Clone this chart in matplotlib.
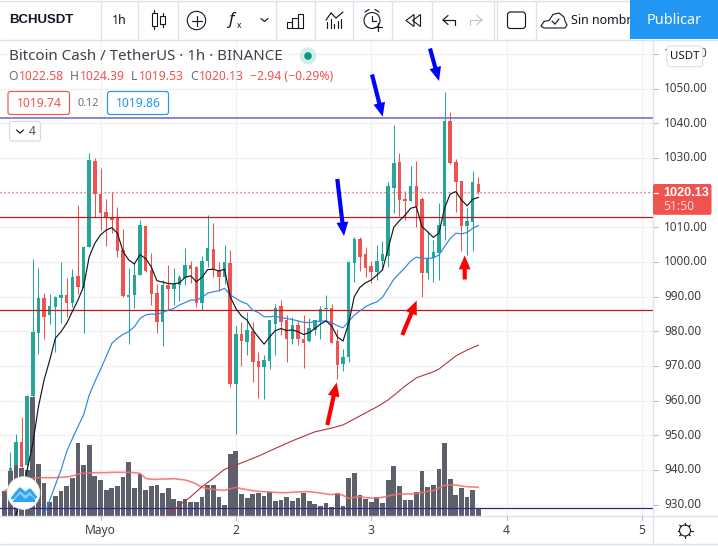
import matplotlib
matplotlib.use("Agg")
import matplotlib.pyplot as plt
from matplotlib.patches import Rectangle, FancyBboxPatch, FancyArrowPatch, Circle, Polygon

plt.rcParams['font.family'] = ['Noto Sans', 'DejaVu Sans']

# ---- data -------------------------------------------------------------
hours = list(range(-17, 68))
opens = [928, 932, 941.4, 948.1, 941.4, 961.4, 979.6, 989.6, 984.7, 987.1, 989.7, 990.5, 988.3, 996, 992.5, 1004.4, 1029.1, 1019.6, 1014.4, 1012.8, 1012.8, 1003.4, 990, 990.5, 996.2, 1010.4, 997.7, 991, 982.7, 993.4, 992.2, 993.4, 995.4, 999.1, 998.5, 988.2, 1000.3, 1003.7, 997.7, 995.7, 999.7, 964.8, 979.2, 976.9, 980, 971.4, 969.7, 971.4, 982.1, 987.3, 983.3, 977.8, 981.8, 977.8, 977.2, 980.4, 983, 986.4, 986.7, 977.2, 970.6, 972.6, 999.7, 1006.6, 1002.3, 998.8, 997.1, 1000.3, 1001.7, 1021.3, 1028.8, 1018.2, 1017.6, 1021.9, 1018.2, 996.8, 1001.1, 1002.6, 1010.4, 1040.7, 1028.8, 1023.4, 1010.4, 1011.5, 1022.58]
closes = [932, 940.6, 948.1, 941, 961.3, 979.9, 989.6, 984.2, 987.3, 990, 990.5, 988.3, 995.7, 992.8, 1004.3, 1029.4, 1019.5, 1014.2, 1012.8, 1012.1, 1003.2, 990.1, 990.5, 996.2, 1010.7, 997.4, 990.8, 982.7, 993.4, 992.2, 993.6, 995.7, 999.1, 998, 988.2, 1000.3, 1004, 997.7, 995.7, 1000, 964.8, 979.2, 977.2, 980.4, 971.1, 969.7, 971.7, 983.3, 986.7, 982.7, 977.8, 981.8, 977.8, 976.6, 980.9, 983.3, 986.4, 986.7, 976.6, 970.3, 972.6, 1000, 1006.6, 1001.4, 998.3, 997.1, 1000.3, 1002.3, 1021.9, 1028.6, 1017.9, 1017.6, 1021.9, 1015.9, 996.8, 1001.1, 1002.9, 1010.7, 1040.7, 1028.5, 1023.1, 1010.4, 1011.8, 1023.1, 1020.13]
highs = [933, 945.2, 950.4, 955.4, 961.6, 1000.9, 998.3, 991, 990.8, 990.2, 1000, 995.4, 997.9, 1016.4, 1004.6, 1031.3, 1029.9, 1027.1, 1018.2, 1020.2, 1015.9, 1009.5, 998.3, 999.6, 1012.1, 1010.4, 1002.6, 993.6, 994.8, 999.1, 998.3, 996.2, 1004, 1000.3, 998.8, 1001.7, 1013.6, 1011.2, 1000, 1004.9, 1003.4, 981.5, 982.7, 985.6, 982.7, 974, 973.2, 983.3, 987.9, 989, 984.7, 984.1, 983.3, 984.7, 983.8, 983.3, 987.3, 990.5, 987.9, 980.7, 974.9, 1000.3, 1007.2, 1007.2, 1004.3, 1000.3, 1004.9, 1006, 1023.1, 1039.5, 1031.4, 1020.5, 1027.7, 1029.1, 1018.7, 1008.9, 1006.3, 1017, 1049, 1043.3, 1029.7, 1023.4, 1015.6, 1026.2, 1024.39]
lows = [926, 930, 938, 940, 938, 960, 973.5, 977.9, 982.1, 974.1, 982.4, 984.1, 987, 990.8, 979.6, 1004.4, 1012.9, 1009.2, 1004.6, 1008.5, 1001.4, 989.8, 976.3, 986.7, 996.2, 997.1, 987.6, 979.5, 975.8, 986.1, 987.6, 988.7, 993.4, 994, 987, 986.1, 998.5, 995.7, 991.6, 993.6, 964, 950.4, 970, 973.2, 965.4, 960.8, 960.5, 969.1, 973.2, 978.9, 971.1, 976.3, 976, 969.4, 976.9, 978.9, 977.8, 983.3, 976.6, 966.2, 968.5, 971.1, 994.2, 997.4, 995.7, 993.9, 994.8, 997.7, 998.5, 1014.1, 1013.3, 1012.1, 1017.6, 1010.1, 989.9, 995.1, 994.2, 994.8, 1006.3, 1028.2, 1014.4, 1003.2, 1002, 1003.2, 1019.53]
volumes = [75, 135, 153, 144, 138, 358, 156, 99, 42, 60, 75, 90, 114, 219, 153, 213, 120, 108, 78, 84, 90, 117, 162, 84, 126, 78, 90, 93, 69, 84, 51, 45, 51, 42, 42, 57, 93, 93, 57, 33, 186, 195, 66, 54, 66, 69,
           60, 72, 45, 48, 57, 45, 54, 69, 45, 36, 30, 39, 27, 69, 30, 114, 129, 63, 51, 42, 57, 39, 108, 150, 90, 48, 48, 72, 135, 87, 93, 141, 219, 111, 63, 84, 57, 78, 23]
vol_avg = [75, 85, 95, 105, 110, 113, 115, 115, 115, 115, 116, 117, 120, 126, 128, 129, 130, 130, 130, 131, 131, 131, 131, 130, 128, 113, 110, 110, 111, 111, 112, 110, 108, 103, 96, 86, 82, 80, 78, 77, 82, 86, 82, 79, 76, 74, 73, 72, 71, 70, 70, 71, 72, 73, 73, 71, 69, 66, 64, 67, 62, 53, 56, 58, 55, 54, 54, 56, 60, 64, 66, 66, 66, 68, 70, 74, 76, 84, 92, 93, 93, 90, 88, 87, 86]
black_hours = list(range(-15, 68))
black_ma = [927, 932.8, 940, 947.7, 958.3, 966, 971.7, 978, 979.9, 982.3, 985.7, 989, 992.9, 1001.5, 1005.4, 1007.8, 1009.2, 1009.9, 1008.3, 1003, 1000.6, 999.4, 1002.1, 1001, 998.6, 994.6, 994.2, 993.8, 993.7, 994, 995.6, 996, 994.3, 995.6, 997.8, 997.9, 997.4, 997.9, 990, 986.6, 984.4, 983.2, 980.4, 978.3, 976.3, 978.4, 980.2, 980.8, 980.2, 980.4, 979.9, 979.1, 979.6, 980.8, 982.1, 983, 981.5, 978.4, 977.2, 982.3, 990, 992.7, 994, 994.8, 996.2, 997.7, 1003.9, 1010, 1011.9, 1013.5, 1015.5, 1015.9, 1010.2, 1008.7, 1007.1, 1008.3, 1015.5, 1019.6, 1020.3, 1017.9, 1016.2, 1018.1, 1018.6]
blue_hours = list(range(-10, 68))
blue_ma = [927, 931.3, 935.7, 940, 945.3, 949, 952.5, 955.9, 961.6, 965.5, 969, 972.7, 976.5, 978, 979.1, 979.9, 981.3, 983.7, 984.7, 985, 984.9, 985.4, 986.1, 986.6, 987.6, 988.3, 989, 989, 989.8, 991, 991.4, 991.7, 992.4, 990.5, 989.5, 988.5, 987.9, 986.1, 985.4, 984.2, 984.2, 984.4, 983.9, 983.7, 983.4, 983, 982.6, 982.5, 982.8, 982.9, 983, 982.5, 981.6, 981, 982.8, 984.7, 985.9, 987.1, 987.9, 988.5, 989.8, 992.4, 995, 996.7, 998.4, 1000.3, 1001.4, 1001.1, 1001, 1001.2, 1002, 1004.4, 1006.8, 1008.3, 1008.1, 1008.5, 1009.7, 1010.5]
red_hours = [12, 14, 16, 18, 20, 22, 24, 26, 28, 30, 34, 38, 41, 43, 46, 49, 51, 54, 56, 59, 60, 63, 65, 67]
red_ma = [926.7, 929.9, 932.3, 935.2, 937.6, 940.2, 941.4, 942.7, 944, 945.5, 948.4, 951, 952.1, 953, 955.6, 958.2, 960.2, 964.2, 966.6, 968.3, 969.1, 972.9, 974.6, 976]
levels_purple = [1041.4, 929]
levels_red = [1013, 986.1]
last_price = 1020.13
price_ticks = [930, 940, 950, 960, 970, 980, 990, 1000, 1010, 1020, 1030, 1040, 1050, 1060]
date_hours = [0, 24, 48, 72, 96]
date_labels = ['Mayo', '2', '3', '4', '5']

# ---- layout -----------------------------------------------------------
W, H = 718, 546
PX0, PX1, PY0, PY1 = 0, 653, 40, 516
GREEN, RED, VOLC = '#26a69a', '#ef5350', '#5d606b'
GRID, BORDER, TXT = '#f0f2f6', '#dfe2ea', '#3c3f48'

fig = plt.figure(figsize=(W / 100, H / 100), dpi=100, facecolor='white')
rect = [PX0 / W, 1 - PY1 / H, (PX1 - PX0) / W, (PY1 - PY0) / H]
xlim = ((PX0 - 100.5) / 5.64, (PX1 - 100.5) / 5.64)
ylim = (1010 - (PY1 - 227.3) / 3.467, 1010 + (227.3 - PY0) / 3.467)


def layer(z, name):
    a = fig.add_axes(rect, label=name, zorder=z)
    a.set_xlim(*xlim)
    a.patch.set_alpha(0)
    a.axis('off')
    return a


ax = layer(1, 'candles')
ax.set_ylim(*ylim)
for p in price_ticks:
    ax.axhline(p, color=GRID, lw=1.0, zorder=0)
for h in date_hours:
    ax.axvline(h, color=GRID, lw=1.0, zorder=0)

colors = [GREEN if c >= o else RED for o, c in zip(opens, closes)]
ax.vlines(hours, lows, highs, colors=colors, lw=0.75, zorder=2)
ax.bar(hours, [abs(c - o) for o, c in zip(opens, closes)],
       bottom=[min(o, c) for o, c in zip(opens, closes)],
       width=0.62, color=colors, lw=0, zorder=3)

vax = layer(2, 'volume')
vax.set_ylim(0, (PY1 - PY0) * 3)
vax.bar(hours, volumes, width=0.84, color=VOLC, lw=0)
vax.plot(hours, vol_avg, color='#f26d6a', lw=1.2, alpha=0.85)

lax = layer(3, 'lines')
lax.set_ylim(*ylim)
lax.axhline(levels_purple[0], color='#7c6fc6', lw=1.2)
lax.axhline(levels_purple[1], color='#3222a0', lw=0.9)
for lv in levels_red:
    lax.axhline(lv, color='#b71c1c', lw=0.9)
lax.axhline(last_price, color=RED, lw=0.9, ls=(0, (1, 2.2)))
lax.plot(red_hours, red_ma, color='#b5333d', lw=0.8)
lax.plot(blue_hours, blue_ma, color='#2f86e0', lw=0.85)
lax.plot(black_hours, black_ma, color='#131722', lw=0.85)

# ---- overlay in pixel coordinates --------------------------------------
ov = fig.add_axes([0, 0, 1, 1], label='overlay', zorder=5)
ov.set_xlim(0, W)
ov.set_ylim(H, 0)
ov.axis('off')
ov.patch.set_alpha(0)


def arrow(x0, y0, x1, y1, c):
    ov.add_patch(FancyArrowPatch((x0, y0), (x1, y1), color=c, lw=0, shrinkA=0, shrinkB=0,
                                 arrowstyle='simple,head_length=10,head_width=8.5,tail_width=3',
                                 mutation_scale=1))


arrow(372, 74.5, 382.7, 116.7, '#0000ff')
arrow(430, 48.5, 439, 81, '#0000ff')
arrow(337.3, 179, 344, 236, '#0000ff')
arrow(327.3, 425, 336.7, 382.5, '#ff0000')
arrow(402.3, 335, 416.7, 300.5, '#ff0000')
arrow(464.7, 279.5, 464.7, 255.5, '#ff0000')


def seg(x0, y0, x1, y1, c='#131722', lw=0.85, z=6):
    ov.plot([x0, x1], [y0, y1], color=c, lw=lw, zorder=z, solid_capstyle='round')


def box(x0, y0, x1, y1, ec, fc='white', r=2.5, lw=0.85, z=6):
    ov.add_patch(FancyBboxPatch((x0 + r, y0 + r), x1 - x0 - 2 * r, y1 - y0 - 2 * r,
                                boxstyle=f'round,pad={r},rounding_size={r}',
                                ec=ec, fc=fc, lw=lw, zorder=z))


def txt(x, y, s, c=TXT, px=12, ha='left', w='normal', z=7, **kw):
    if w == 'bold':
        kw['family'] = ['Liberation Sans', 'DejaVu Sans']
    return ov.text(x, y, s, color=c, fontsize=px * 0.72, ha=ha, va='center', fontweight=w, zorder=z, **kw)


# Panels and frame
ov.add_patch(Rectangle((0, 0), W, 39.5, fc='white', ec='none', zorder=1))
ov.add_patch(Rectangle((653, 39.5), W - 653, 505, fc='white', ec='none', zorder=1))
ov.add_patch(Rectangle((0, 516), 653, 28, fc='white', ec='none', zorder=1))
seg(0, 0.7, W, 0.7, BORDER, 1.0, 2)
seg(0, 39.5, W, 39.5, BORDER, 1.0, 2)
seg(0, 516, W, 516, BORDER, 1.0, 2)
seg(0, 544.3, W, 544.3, BORDER, 1.0, 2)
seg(653.3, 39.5, 653.3, 544, BORDER, 1.0, 2)
for sx in [100.7, 138, 177.7, 275.7, 315, 353, 392, 431.7, 494, 497, 535.7]:
    seg(sx, 1, sx, 39, BORDER, 1.0, 2)

# Price axis
for p in price_ticks:
    y = 227.3 + (1010 - p) * 3.467
    seg(653.5, y, 657.5, y, '#b8bcc6', 0.8, 3)
    txt(664, y, f'{p:.2f}', px=11.8, z=4)
for h, lab in zip(date_hours, date_labels):
    x = 100.5 + h * 5.64
    seg(x, 516, x, 520, '#b8bcc6', 0.8, 3)
    txt(x, 530.5, lab, px=12, ha='center', z=4)

# Last price tag
box(653, 184, 711.5, 214.8, RED, RED, r=2, lw=0)
seg(653.5, 192.6, 657.5, 192.6, 'white', 0.9, 7)
txt(663, 192.6, '1020.13', 'white', 12.6, w='bold')
txt(663, 206.5, '51:50', '#ffd6d4', 12.2)
box(667, 46, 702.7, 66.7, BORDER)
txt(685, 56.5, 'USDT', '#131722', 11.5, ha='center')

# Toolbar text
txt(9, 20, 'BCHUSDT', '#131722', 13.2, w='bold')
txt(119.5, 20.5, '1h', '#131722', 12.5, ha='center')
txt(571, 20.5, 'Sin nombr', '#131722', 12.5)
ov.add_patch(Rectangle((630, 0), 88, 39, fc='#2196f3', ec='none', zorder=8))
txt(674, 20.5, 'Publicar', 'white', 14.5, ha='center', z=9)

# Toolbar icons
ic = dict(fc='none', ec='#131722', lw=0.8, zorder=6)
seg(154, 10, 154, 29); ov.add_patch(Rectangle((152, 13), 4.5, 13, fc='white', ec='#131722', lw=0.8, zorder=7))
seg(162.5, 13, 162.5, 27); ov.add_patch(Rectangle((160.3, 16), 4.5, 8, fc='white', ec='#131722', lw=0.8, zorder=7))
ov.add_patch(Circle((196.5, 20.5), 9.2, **ic))
seg(196.5, 15.5, 196.5, 25.5); seg(191.5, 20.5, 201.5, 20.5)
txt(229, 20, 'f', '#131722', 17, ha='left', style='italic')
txt(236.5, 25.5, 'x', '#131722', 8.5)
seg(261, 18.5, 264.5, 21.5); seg(264.5, 21.5, 268, 18.5)
for bx, by in [(287, 21), (292.5, 17), (298, 13)]:
    ov.add_patch(Rectangle((bx - 0.5, by + 1), 5.5, 27 - by, **ic))
seg(326, 20, 331, 13); seg(331, 13, 336, 18); seg(336, 18, 343, 12)
for i, bh in enumerate([6, 9, 4, 7, 9]):
    seg(327 + i * 3.5, 28, 327 + i * 3.5, 28 - bh)
ov.add_patch(Circle((372, 20.5), 8, **ic))
seg(372, 15.5, 372, 21); seg(372, 21, 376, 21)
seg(365, 12, 369, 9.5); seg(375, 9.5, 379, 12)
seg(378, 23, 378, 31); seg(374, 27, 382, 27)
ov.add_patch(Polygon([[414, 14.5], [406, 20.5], [414, 26.5]], closed=True, **ic))
ov.add_patch(Polygon([[420.5, 14.5], [412.5, 20.5], [420.5, 26.5]], closed=True, **ic))
seg(443, 20, 455, 20); seg(443, 20, 448, 15.5); seg(443, 20, 448, 24.5); seg(455, 20, 455, 25)
seg(482, 20, 470, 20, '#c4c7cf'); seg(482, 20, 477, 15.5, '#c4c7cf'); seg(482, 20, 477, 24.5, '#c4c7cf'); seg(470, 20, 470, 25, '#c4c7cf')
box(507.5, 12, 525.5, 28.5, '#131722', r=3)
cloud = [[544, 28], [541, 26], [544, 21.5], [549, 20.5], [553, 14.5], [559, 13], [564, 17], [565, 21], [567, 25], [565, 28]]
ov.add_patch(Polygon(cloud, closed=True, **ic))
seg(552, 21, 555, 24); seg(555, 24, 559, 19)

# Gear icon
ov.add_patch(Circle((685, 530.5), 5.5, **ic))
for dx, dy in [(0, -7.5), (0, 7.5), (-7.5, 0), (7.5, 0), (5.3, 5.3), (-5.3, 5.3), (5.3, -5.3), (-5.3, -5.3)]:
    seg(685 + dx * 0.75, 530.5 + dy * 0.75, 685 + dx, 530.5 + dy)

# Legend
txt(9, 56.5, 'Bitcoin Cash / TetherUS · 1h · BINANCE', '#3f424b', 15.1)
ov.add_patch(Circle((308, 56), 8.5, fc='#d4ede9', ec='none', zorder=7))
ov.add_patch(Circle((308, 56), 3.8, fc='#089981', ec='none', zorder=8))
for x, s, c in [(8, 'O', '#6a6d78'), (18.5, '1022.58', RED), (70, 'H', '#6a6d78'), (79.5, '1024.39', RED),
                (131, 'L', '#6a6d78'), (139, '1019.53', RED), (190, 'C', '#6a6d78'), (199, '1020.13', RED),
                (250, '−2.94 (−0.29%)', RED)]:
    txt(x, 76.5, s, c, 12.2)
box(8, 91.5, 69.5, 114.5, RED)
txt(39, 103.5, '1019.74', RED, 12.2, ha='center')
txt(88.5, 103.5, '0.12', '#6a6d78', 10.8, ha='center')
box(107.5, 91.5, 168.5, 114.5, '#2196f3')
txt(138, 103.5, '1019.86', '#2196f3', 12.2, ha='center')
box(9.5, 121.5, 40.5, 141, '#d5d8e0')
seg(16.5, 130, 20, 133); seg(20, 133, 23.5, 130)
txt(32.5, 131.5, '4', '#50535e', 12, ha='center')

# Logo badge
ov.add_patch(Circle((23.5, 493), 16.3, fc='white', ec='#e8eaf0', lw=0.6, zorder=8))
badge = [[13, 499], [14, 493], [20, 487], [25, 491], [30, 488], [35, 494], [34, 499]]
ov.add_patch(Polygon(badge, closed=True, fc='#8fd0f8', ec='none', zorder=9))
wave = [[12.5, 498], [20, 489], [25.5, 494], [30, 490], [35.5, 497]]
ov.plot(*zip(*wave), color='#2ea5f2', lw=2.0, zorder=10, solid_joinstyle='round')
under = [[13, 502], [35, 502], [35, 499], [30, 495], [25.5, 499], [20, 494], [13, 501]]
ov.add_patch(Polygon(under, closed=True, fc='#2ea5f2', ec='none', zorder=9))

fig.savefig('out.png', dpi=100, facecolor='white')
